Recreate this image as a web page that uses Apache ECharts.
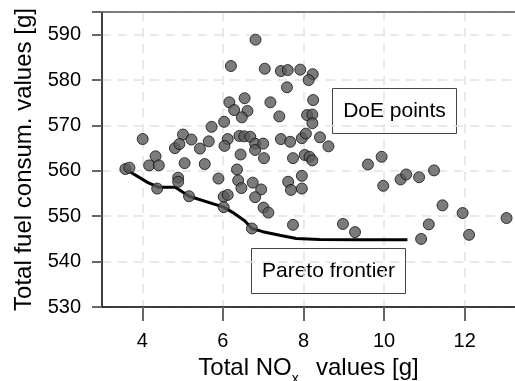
<!DOCTYPE html>
<html>
<head>
<meta charset="utf-8">
<script src="https://cdn.jsdelivr.net/npm/echarts@6/dist/echarts.min.js"></script>
<style>
html,body{margin:0;padding:0;background:#fff;}
#chart{width:515px;height:381px;}
</style>
</head>
<body>
<div id="chart"></div>
<script>
// DoE points: total NOx [g] and total fuel consumption [g]
var doeNox = [6.81,6.20,7.04,7.44,7.61,7.92,8.23,8.13,7.59,6.16,6.54,7.18,6.28,6.61,6.47,7.40,8.24,8.09,8.22,8.22,
  5.72,6.03,4.01,4.33,5.01,5.22,4.81,4.92,5.43,5.65,6.12,6.04,6.41,6.53,6.68,6.80,6.80,7.00,7.44,7.67,
  7.96,8.06,8.41,8.62,6.44,7.02,7.74,8.03,8.15,8.22,9.94,9.60,3.58,3.68,4.17,4.41,5.05,5.55,6.35,5.89,
  6.38,6.46,6.74,6.95,6.80,7.01,7.13,7.62,7.69,7.96,7.96,7.74,8.98,9.28,9.98,10.41,10.55,10.87,11.24,11.45,
  11.11,10.92,11.95,12.11,13.04,4.37,4.89,4.89,5.16,6.02,6.12,6.02,6.72];
var doeFuel = [588.9,583.1,582.5,582.0,582.2,582.3,581.3,580.0,578.4,575.1,576.0,575.1,573.4,573.2,571.8,572.0,575.6,572.3,572.4,570.5,
  569.7,570.8,567.0,563.2,568.0,566.9,565.0,565.9,564.9,566.5,567.0,565.5,567.7,567.6,567.5,566.0,564.6,566.0,567.0,566.4,
  567.2,568.2,567.4,565.4,563.6,562.8,562.8,563.5,563.1,562.3,563.1,561.4,560.4,560.7,561.2,561.2,561.7,561.5,560.3,558.3,
  557.9,556.2,557.4,555.9,554.2,551.9,550.8,557.6,555.8,558.9,556.1,548.1,548.3,546.5,556.7,558.1,559.2,558.6,560.1,552.4,
  548.2,545.0,550.7,545.9,549.6,556.1,558.5,557.6,554.4,554.3,554.7,552.0,547.3];
// Pareto frontier
var paretoNox = [3.60,4.14,4.40,4.82,5.16,6.02,6.25,6.54,6.72,6.99,7.41,7.82,8.40,9.39,10.58];
var paretoFuel = [560.3,557.4,556.4,556.4,554.4,552.0,550.8,549.0,547.3,546.6,545.8,545.1,544.9,544.8,544.8];
// Axis ticks
var xTicks = [4,6,8,10,12];
var yTicks = [530,540,550,560,570,580,590];
var xLabel = 'Total NO';
var xLabelSub = 'x';
var xLabelEnd = '  values [g]';
var yLabel = 'Total fuel consum. values [g]';
var annDoe = 'DoE points';
var annPareto = 'Pareto frontier';

var FONT = "'Liberation Sans', Arial, sans-serif";
var doeData = doeNox.map(function(v,i){return [v, doeFuel[i]];});
var paretoData = paretoNox.map(function(v,i){return [v, paretoFuel[i]];});

var chart = echarts.init(document.getElementById('chart'), null, {renderer:'canvas'});
chart.setOption({
  animation:false,
  backgroundColor:'#fff',
  grid:{left:102, right:0, top:12, bottom:74, containLabel:false, outerBoundsMode:'none', show:false},
  xAxis:[{
    type:'value', min:3, max:13.25,
    name: '{a|' + xLabel + '}{s|' + xLabelSub + '}{a|' + xLabelEnd + '}',
    nameLocation:'middle', nameGap:44,
    nameTextStyle:{fontFamily:FONT, color:'#000', rich:{
      a:{fontSize:24, fontFamily:FONT, color:'#000', lineHeight:26, verticalAlign:'top'},
      s:{fontSize:14, fontFamily:FONT, color:'#000', lineHeight:14, padding:[16,4,0,0], verticalAlign:'top'}
    }},
    axisLine:{show:true, onZero:false, lineStyle:{color:'#000', width:1.5}},
    axisTick:{show:true, inside:false, length:14, customValues:xTicks, lineStyle:{color:'#666', width:2}},
    axisLabel:{customValues:xTicks, fontSize:20, fontFamily:FONT, color:'#000', margin:24},
    splitLine:{show:true, lineStyle:{color:'#e2e2e2', width:1.5, type:[9,7]}}
  },{
    type:'value', min:3, max:13.25, position:'top',
    axisLine:{show:true, onZero:false, lineStyle:{color:'#555', width:1.5}},
    axisTick:{show:false}, axisLabel:{show:false}, splitLine:{show:false}
  }],
  yAxis:{
    type:'value', min:530, max:595, interval:10,
    name: yLabel, nameLocation:'middle', nameGap:61,
    nameTextStyle:{fontSize:24, fontFamily:FONT, color:'#000'},
    axisLine:{show:true, onZero:false, lineStyle:{color:'#000', width:1.5}},
    axisTick:{show:true, inside:false, length:10, lineStyle:{color:'#666', width:2}},
    axisLabel:{fontSize:20, fontFamily:FONT, color:'#000', margin:21,
      formatter:function(v){return yTicks.indexOf(v) >= 0 ? String(v) : '';}},
    splitLine:{show:true, lineStyle:{color:'#e2e2e2', width:1.5, type:[9,7]}}
  },
  series:[
    {type:'line', data:paretoData, showSymbol:false, symbol:'none', z:2,
      lineStyle:{color:'#000', width:3}},
    {type:'scatter', data:doeData, symbol:'circle', symbolSize:11, z:3,
      itemStyle:{color:'#5a5a5a', borderColor:'#111', borderWidth:1}}
  ],
  graphic:[
    {type:'group', z:100, children:[
      {type:'rect', shape:{x:332.5, y:88.5, width:124, height:45}, style:{fill:'#fff', stroke:'#444', lineWidth:1}},
      {type:'text', x:394.5, y:111, style:{text:annDoe, font:'21px ' + FONT, fill:'#000', align:'center', verticalAlign:'middle'}}
    ]},
    {type:'group', z:100, children:[
      {type:'rect', shape:{x:251.5, y:248.5, width:154, height:45}, style:{fill:'#fff', stroke:'#444', lineWidth:1}},
      {type:'text', x:328.5, y:271, style:{text:annPareto, font:'21px ' + FONT, fill:'#000', align:'center', verticalAlign:'middle'}}
    ]}
  ]
});
</script>
</body>
</html>
